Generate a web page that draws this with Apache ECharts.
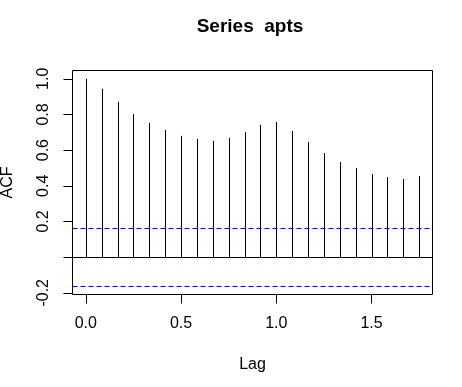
<!DOCTYPE html>
<html>
<head>
<meta charset="utf-8">
<script src="https://cdn.jsdelivr.net/npm/echarts@6/dist/echarts.min.js"></script>
<style>html,body{margin:0;padding:0;background:#fff;}#c{width:462px;height:387px;}</style>
</head>
<body>
<div id="c"></div>
<script>
const chartTitle = 'Series  apts';
const lags = [0, 1/12, 2/12, 3/12, 4/12, 5/12, 6/12, 7/12, 8/12, 9/12, 10/12, 11/12,
              12/12, 13/12, 14/12, 15/12, 16/12, 17/12, 18/12, 19/12, 20/12, 21/12];
const acfValues = [1.000, 0.944, 0.871, 0.803, 0.753, 0.713, 0.680, 0.663, 0.652, 0.669, 0.702, 0.742,
                   0.758, 0.708, 0.646, 0.584, 0.534, 0.500, 0.466, 0.449, 0.438, 0.455];
const confLimit = 0.163;
const xTicks = [0, 0.5, 1, 1.5];
const yTicks = [-0.2, 0, 0.2, 0.4, 0.6, 0.8, 1.0];
const yLabels = [-0.2, 0.2, 0.4, 0.6, 0.8, 1.0];

const font = 'Liberation Sans, Arial, sans-serif';
const xLo = 0, xHi = Math.max(...lags);
const xPad = (xHi - xLo) * 0.04;
const yLo = -confLimit, yHi = 1;
const yPad = (yHi - yLo) * 0.04;

const hLines = [
  {value: 0, color: '#000000', dash: 'solid'},
  {value: confLimit, color: '#0000ff', dash: [5, 3]},
  {value: -confLimit, color: '#0000ff', dash: [5, 3]}
];

const chart = echarts.init(document.getElementById('c'), null, {renderer: 'canvas'});
chart.setOption({
  animation: false,
  backgroundColor: '#ffffff',
  title: {
    text: chartTitle,
    left: 245, top: 12, textAlign: 'center',
    textStyle: {fontFamily: font, fontSize: 19, fontWeight: 'bold', color: '#000'}
  },
  grid: {
    left: 72.5, right: 29.5, top: 70.5, bottom: 92.5,
    outerBoundsMode: 'none', containLabel: false,
    show: true, borderColor: '#000', borderWidth: 1, backgroundColor: 'transparent'
  },
  xAxis: {
    type: 'value', min: xLo - xPad, max: xHi + xPad,
    name: 'Lag', nameLocation: 'middle', nameGap: 62,
    nameTextStyle: {fontFamily: font, fontSize: 16, color: '#000'},
    axisLine: {show: false, onZero: false},
    axisTick: {show: true, inside: false, length: 9, customValues: xTicks, lineStyle: {color: '#000', width: 1}},
    axisLabel: {show: true, margin: 21, customValues: xTicks, fontFamily: font, fontSize: 16, color: '#000',
      formatter: v => v.toFixed(1)},
    splitLine: {show: false}
  },
  yAxis: {
    type: 'value', min: yLo - yPad, max: yHi + yPad,
    name: 'ACF', nameLocation: 'middle', nameGap: 57, nameRotate: 90,
    nameTextStyle: {fontFamily: font, fontSize: 16, color: '#000'},
    axisLine: {show: false, onZero: false},
    axisTick: {show: true, inside: false, length: 9, customValues: yTicks, lineStyle: {color: '#000', width: 1}},
    axisLabel: {show: true, margin: 21, rotate: 90, customValues: yLabels, fontFamily: font, fontSize: 16, color: '#000',
      align: 'center', verticalAlign: 'bottom',
      formatter: v => v.toFixed(1)},
    splitLine: {show: false}
  },
  series: [{
    type: 'custom',
    silent: true,
    data: lags.map((l, i) => [l, acfValues[i]]),
    renderItem: function (params, api) {
      const p0 = api.coord([api.value(0), 0]);
      const p1 = api.coord([api.value(0), api.value(1)]);
      const x = Math.round(p0[0]) + 0.5;
      return {
        type: 'line',
        shape: {x1: x, y1: p0[1], x2: x, y2: p1[1]},
        style: {stroke: '#000', lineWidth: 1}
      };
    }
  }, {
    type: 'custom',
    silent: true,
    data: hLines.map(h => [0, h.value]),
    renderItem: function (params, api) {
      const h = hLines[params.dataIndex];
      const cs = params.coordSys;
      const y = Math.round(api.coord([0, api.value(1)])[1]) + 0.5;
      return {
        type: 'line',
        shape: {x1: cs.x, y1: y, x2: cs.x + cs.width, y2: y},
        style: {stroke: h.color, lineWidth: 1, lineDash: h.dash === 'solid' ? null : h.dash}
      };
    }
  }]
});
</script>
</body>
</html>
